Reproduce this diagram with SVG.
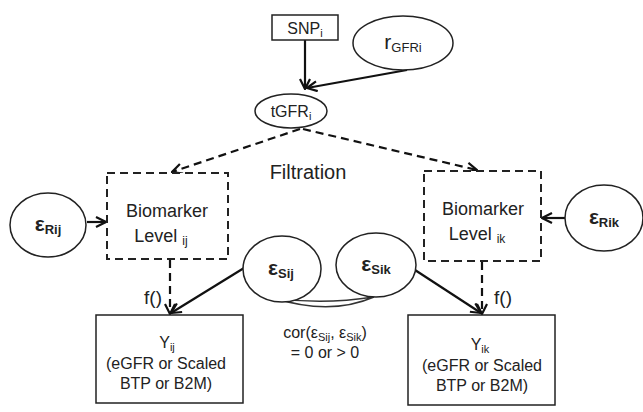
<svg xmlns="http://www.w3.org/2000/svg" width="643" height="412" viewBox="0 0 643 412">
<defs>
<style>
text{font-family:"Liberation Sans",Arial,sans-serif;fill:#222;}
.node{fill:#fff;stroke:#222;stroke-width:1.5;}
.dnode{fill:#fff;stroke:#222;stroke-width:2;stroke-dasharray:8 5;}
.solid{fill:none;stroke:#111;stroke-width:2.2;}
.dash{fill:none;stroke:#111;stroke-width:2.2;stroke-dasharray:8 5;}
.eps{font-weight:bold;font-size:21px;}
.lbl{font-size:18px;}
.y{font-size:16px;}
</style>
<marker id="ah" viewBox="0 0 12 12" refX="11" refY="6" markerWidth="12" markerHeight="12" markerUnits="userSpaceOnUse" orient="auto">
<path d="M1,1 L11,6 L1,11" fill="none" stroke="#111" stroke-width="2.2"/>
</marker>
</defs>
<rect width="643" height="412" fill="#fff"/>

<g id="connectors">
<line class="solid" x1="305" y1="39" x2="305" y2="89" marker-end="url(#ah)"/>
<line class="solid" x1="407" y1="70" x2="307" y2="88" marker-end="url(#ah)"/>
<line class="dash" x1="300" y1="129" x2="172" y2="172" marker-end="url(#ah)"/>
<line class="dash" x1="303" y1="129" x2="477" y2="170" marker-end="url(#ah)"/>
<line class="solid" x1="87" y1="222" x2="106" y2="222" marker-end="url(#ah)"/>
<line class="solid" x1="565" y1="218" x2="542" y2="218" marker-end="url(#ah)"/>
<line class="dash" x1="170" y1="260" x2="170" y2="314" marker-end="url(#ah)"/>
<line class="dash" x1="482" y1="262" x2="482" y2="314" marker-end="url(#ah)"/>
<line class="solid" x1="244" y1="268" x2="171" y2="313" marker-end="url(#ah)"/>
<line class="solid" x1="415" y1="270" x2="481" y2="313" marker-end="url(#ah)"/>
<path d="M274,298 Q322,305 374,297 Q330,316 274,298 Z" fill="none" stroke="#333" stroke-width="1.5"/>
</g>

<g id="snp">
<rect class="node" x="272" y="15" width="66" height="25"/>
<text x="305" y="34" font-size="16" text-anchor="middle">SNP<tspan font-size="11" dy="3">i</tspan></text>
</g>

<g id="rgfr">
<ellipse class="node" cx="403" cy="43" rx="50" ry="27"/>
<text x="403" y="49" font-size="21" text-anchor="middle">r<tspan font-size="13" dy="3">GFRi</tspan></text>
</g>

<g id="tgfr">
<ellipse class="node" cx="291" cy="111" rx="36" ry="17"/>
<text x="291" y="117" font-size="16" text-anchor="middle">tGFR<tspan font-size="11" dy="3">i</tspan></text>
</g>

<g id="filtration">
<text x="308" y="179" font-size="20" text-anchor="middle">Filtration</text>
</g>

<g id="bio-ij">
<rect class="dnode" x="107" y="173" width="121" height="86"/>
<text x="167" y="217" class="lbl" text-anchor="middle">Biomarker</text>
<text x="161" y="242" class="lbl" text-anchor="middle">Level <tspan font-size="12" dy="3">ij</tspan></text>
</g>

<g id="bio-ik">
<rect class="dnode" x="424" y="171" width="117" height="90"/>
<text x="483" y="215" class="lbl" text-anchor="middle">Biomarker</text>
<text x="477" y="240" class="lbl" text-anchor="middle">Level <tspan font-size="12" dy="3">ik</tspan></text>
</g>

<g id="eps-rij">
<ellipse class="node" cx="48" cy="225" rx="38" ry="32"/>
<text x="48" y="231" class="eps" text-anchor="middle">ε<tspan font-size="13" dy="3">Rij</tspan></text>
</g>

<g id="eps-rik">
<ellipse class="node" cx="604" cy="218" rx="39" ry="33"/>
<text x="604" y="224" class="eps" text-anchor="middle">ε<tspan font-size="13" dy="3">Rik</tspan></text>
</g>

<g id="eps-sij">
<ellipse class="node" cx="282" cy="269" rx="39" ry="33"/>
<text x="281" y="275" class="eps" text-anchor="middle">ε<tspan font-size="13" dy="3">Sij</tspan></text>
</g>

<g id="eps-sik">
<ellipse class="node" cx="376" cy="265" rx="40" ry="32"/>
<text x="376" y="271" class="eps" text-anchor="middle">ε<tspan font-size="13" dy="3">Sik</tspan></text>
</g>

<g id="f-labels">
<text x="153" y="304" font-size="19" text-anchor="middle">f()</text>
<text x="503" y="304" font-size="19" text-anchor="middle">f()</text>
</g>

<g id="cor">
<text x="325" y="338" class="y" text-anchor="middle">cor(ε<tspan font-size="11" dy="3">Sij</tspan><tspan dy="-3">, ε</tspan><tspan font-size="11" dy="3">Sik</tspan><tspan dy="-3">)</tspan></text>
<text x="325" y="358" class="y" text-anchor="middle">= 0 or &gt; 0</text>
</g>

<g id="y-ij">
<rect class="node" x="96" y="315" width="147" height="88"/>
<text x="167" y="348" class="y" text-anchor="middle">Y<tspan font-size="11" dy="3">ij</tspan></text>
<text x="166" y="369" class="y" text-anchor="middle">(eGFR or Scaled</text>
<text x="166" y="389" class="y" text-anchor="middle">BTP or B2M)</text>
</g>

<g id="y-ik">
<rect class="node" x="408" y="315" width="147" height="90"/>
<text x="480" y="350" class="y" text-anchor="middle">Y<tspan font-size="11" dy="3">ik</tspan></text>
<text x="482" y="371" class="y" text-anchor="middle">(eGFR or Scaled</text>
<text x="482" y="391" class="y" text-anchor="middle">BTP or B2M)</text>
</g>
</svg>
